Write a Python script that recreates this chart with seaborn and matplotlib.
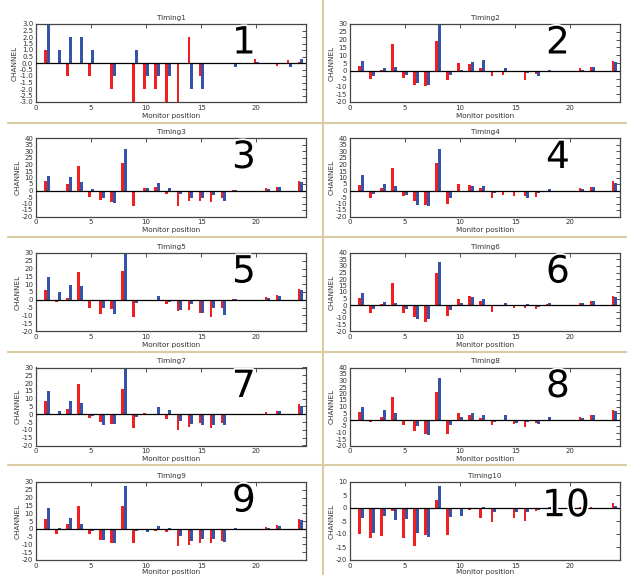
import numpy as np
import pandas as pd
import matplotlib
matplotlib.use("Agg")
import matplotlib.pyplot as plt
import matplotlib.patheffects as pe
from matplotlib.lines import Line2D
import seaborn as sns

positions = list(range(1, 25))

timing1_red = [1.0, 0, -1.0, 0, -1.0, 0, -2.0, 0, -3.0, -2.0, -2.0, -3.0, -3.0, 2.0, -1.0, 0, 0, 0, 0, 0.3, -0.1, -0.2, 0.2, 0.1]
timing1_blue = [3.0, 1.0, 2.0, 2.0, 1.0, 0, -1.0, 0, 1.0, -1.0, -1.0, -1.0, 0, -2.0, -2.0, 0, 0, -0.3, 0, 0.1, -0.1, 0, -0.3, 0.3]
timing2_red = [3.2, -5.3, 0.6, 16.9, -4.3, -9.4, -10.0, 19.0, -6.2, 5.2, 4.1, 1.5, -3.2, -2.6, -0.6, -5.8, -2.1, 0, 0, 0, 1.5, 2.4, 0, 6.4]
timing2_blue = [6.0, -3.4, 2.0, 2.4, -3.0, -7.5, -9.2, 31.0, -2.6, 0.5, 5.6, 6.8, -0.6, 2.0, 0, -1.7, -3.4, 0.6, 0, -0.6, 0.5, 2.4, 0, 5.6]
timing3_red = [7.3, -1.3, 4.7, 19.1, -4.7, -7.6, -8.6, 21.1, -11.7, 2.1, 2.6, -2.9, -11.7, -8.1, -8.1, -8.9, -6.0, 0.5, 0, 0, 1.6, 2.6, 0, 7.6]
timing3_blue = [11.5, 0, 10.2, 6.3, 0.8, -5.7, -9.7, 32.1, 0, 2.1, 5.7, 1.6, -2.9, -6.0, -6.0, -3.7, -8.1, 0.5, 0, 0, 0.8, 2.6, 0, 6.3]
timing4_red = [4.2, -5.5, 1.6, 17.0, -4.4, -8.4, -11.5, 21.1, -10.4, 5.2, 4.2, 1.6, -5.7, -3.4, -3.9, -3.9, -5.0, 0, 0, 0, 1.6, 2.6, 0, 7.0]
timing4_blue = [12.3, -2.9, 5.2, 3.4, -3.4, -11.5, -12.0, 32.1, -5.5, -1.3, 3.4, 3.4, -1.8, 0, -1.3, -5.7, -1.8, 0.8, 0, 0, 0.8, 2.6, 0, 5.7]
timing5_red = [6.1, -1.1, 1.3, 18.0, -5.2, -9.1, -6.1, 18.5, -11.3, 0, -0.9, -2.4, -7.0, -6.5, -8.7, -10.9, -5.2, 0.7, 0, 0, 2.0, 2.8, 0, 7.0]
timing5_blue = [14.3, 4.8, 9.3, 8.7, 0, -5.4, -9.1, 29.6, -2.2, 0, 2.6, -1.1, -6.5, -2.8, -8.3, -5.4, -9.6, 0.7, 0, -0.7, 1.1, 2.4, 0, 6.1]
timing6_red = [5.5, -6.3, 0.5, 16.7, -6.3, -9.1, -13.3, 24.8, -8.1, 4.4, 6.8, 2.9, -5.7, -1.0, -2.6, -2.6, -3.1, 0.5, 0, 0, 1.8, 2.9, 0, 7.3]
timing6_blue = [9.4, -3.1, 2.1, 1.6, -3.1, -10.7, -10.7, 33.4, -4.2, 1.3, 6.0, 5.0, 0, 1.3, 0, 0.5, -1.3, 1.3, 0, 0, 1.3, 2.9, 0, 6.5]
timing7_red = [8.7, 0.4, 3.1, 19.4, -2.5, -5.2, -6.0, 16.2, -9.0, 0.8, 0, -2.7, -10.0, -8.3, -5.6, -8.7, -5.4, 0, 0, 0, 1.2, 2.1, 0, 6.7]
timing7_blue = [15.0, 2.1, 8.7, 7.1, -1.2, -6.7, -6.0, 30.0, -1.7, 0, 4.4, 2.5, -4.0, -6.0, -6.7, -6.7, -6.7, 0.4, 0, 0, 0.4, 2.1, 0, 5.6]
timing8_red = [5.7, -2.1, 1.8, 17.0, -3.9, -8.9, -11.0, 21.4, -11.2, 4.7, 3.1, 1.0, -3.9, -1.0, -3.4, -5.5, -2.9, 0, 0, 0, 1.8, 3.1, 0, 7.3]
timing8_blue = [9.7, -1.0, 7.0, 5.2, 0, -5.0, -11.7, 31.6, -3.9, 1.6, 5.2, 3.1, -2.3, 3.7, -2.9, -2.1, -3.7, 1.6, 0, 0, 1.0, 3.1, 0, 6.5]
timing9_red = [6.2, -3.2, 3.2, 14.9, -3.4, -7.2, -9.1, 14.9, -9.1, -0.9, -1.5, -2.3, -11.1, -10.6, -8.9, -8.9, -8.1, 0, -0.4, 0, 1.3, 2.3, 0, 6.4]
timing9_blue = [13.2, 0.4, 6.8, 3.2, -1.3, -7.2, -9.1, 27.4, -1.7, -1.9, 1.5, 0.4, -4.7, -7.7, -6.6, -6.6, -8.5, 0.4, 0, 0, 0.4, 1.7, 0, 5.7]
timing10_red = [-9.9, -11.6, -10.6, -1.0, -11.6, -14.5, -10.4, 2.9, -10.4, 0, -0.6, -3.8, -5.2, -0.4, -3.8, -4.9, -1.0, 0, 0, 0, 0.5, 0.3, 0, 2.1]
timing10_blue = [-3.9, -9.6, -3.0, -4.7, -4.2, -9.6, -11.2, 8.6, -3.4, -3.0, -0.4, 0.5, -1.7, 0, -1.4, -1.4, -0.8, 0.3, 0, 0, 0, 0, -0.1, 0.8]

titles = ["Timing1", "Timing2", "Timing3", "Timing4", "Timing5",
          "Timing6", "Timing7", "Timing8", "Timing9", "Timing10"]
panel_labels = ["1", "2", "3", "4", "5", "6", "7", "8", "9", "10"]
reds = [timing1_red, timing2_red, timing3_red, timing4_red, timing5_red,
        timing6_red, timing7_red, timing8_red, timing9_red, timing10_red]
blues = [timing1_blue, timing2_blue, timing3_blue, timing4_blue, timing5_blue,
         timing6_blue, timing7_blue, timing8_blue, timing9_blue, timing10_blue]
ylims = [(-3, 3), (-20, 30), (-20, 40), (-20, 40), (-20, 30),
         (-20, 40), (-20, 30), (-20, 40), (-20, 30), (-20, 10)]
ysteps = [0.5, 5, 5, 5, 5, 5, 5, 5, 5, 5]
xticks = [0, 5, 10, 15, 20]
xticklabels = ["0", "5", "10", "15", "20"]

sns.set_style("white")
plt.rcParams['font.family'] = ['DejaVu Sans']
plt.rcParams['axes.unicode_minus'] = False

RED = "#f02020"
BLUE = "#3553a8"
W, H = 627, 575
fig = plt.figure(figsize=(W / 100, H / 100), dpi=100)

col_x = [36, 350]
ax_w = 270
row_top0 = 24
row_pitch = 114.5
ax_h = 78

for i in range(10):
    r, c = i // 2, i % 2
    top = row_top0 + row_pitch * r
    ax = fig.add_axes([col_x[c] / W, 1 - (top + ax_h) / H, ax_w / W, ax_h / H])
    df = pd.DataFrame({
        "pos": np.array(positions + positions, dtype=float),
        "val": np.array(reds[i] + blues[i], dtype=float),
        "series": ["red"] * len(positions) + ["blue"] * len(positions),
    })
    sns.barplot(data=df, x="pos", y="val", hue="series", hue_order=["red", "blue"],
                palette=[RED, BLUE], native_scale=True, width=0.5, dodge=True,
                errorbar=None, saturation=1, legend=False, linewidth=0, ax=ax)
    ax.axhline(0, color="black", lw=0.9, zorder=3)
    ax.set_xlim(0, 24.5)
    lo, hi = ylims[i]
    ax.set_ylim(lo, hi)
    yt = np.arange(lo, hi + ysteps[i] / 2, ysteps[i])
    ax.set_yticks(yt)
    if ysteps[i] < 1:
        ax.set_yticklabels(["%.1f" % v for v in yt])
    else:
        ax.set_yticklabels(["%d" % v for v in yt])
    ax.set_xticks(xticks)
    ax.set_xticklabels(xticklabels)
    ax.tick_params(direction="in", length=3, width=0.6, top=True, right=True,
                   labelsize=5, colors="#333333", pad=2)
    for s in ax.spines.values():
        s.set_color("#444444")
        s.set_linewidth(0.9)
    ax.set_title(titles[i], fontsize=5.2, color="#333333", pad=3)
    ax.set_xlabel("Monitor position", fontsize=5.2, color="#333333",
                  labelpad=1.5 if r < 4 else 0.5)
    ax.set_ylabel("CHANNEL", fontsize=5.2, color="#333333", labelpad=1)
    ax.text(0.77 if i < 9 else 0.80, 0.75 if i < 9 else 0.69, panel_labels[i],
            transform=ax.transAxes, ha="center", va="center", fontsize=27,
            color="black", zorder=5,
            path_effects=[pe.withStroke(linewidth=2.5, foreground="white")])

sep_color = "#d9cba3"
fig.add_artist(Line2D([323 / W, 323 / W], [0, 1], color=sep_color, lw=1.5,
                      transform=fig.transFigure))
for yy in [123, 237, 352, 465]:
    fig.add_artist(Line2D([8 / W, 1], [1 - yy / H, 1 - yy / H], color=sep_color,
                          lw=1.5, transform=fig.transFigure))

fig.savefig("out.png", dpi=100, facecolor="white")
